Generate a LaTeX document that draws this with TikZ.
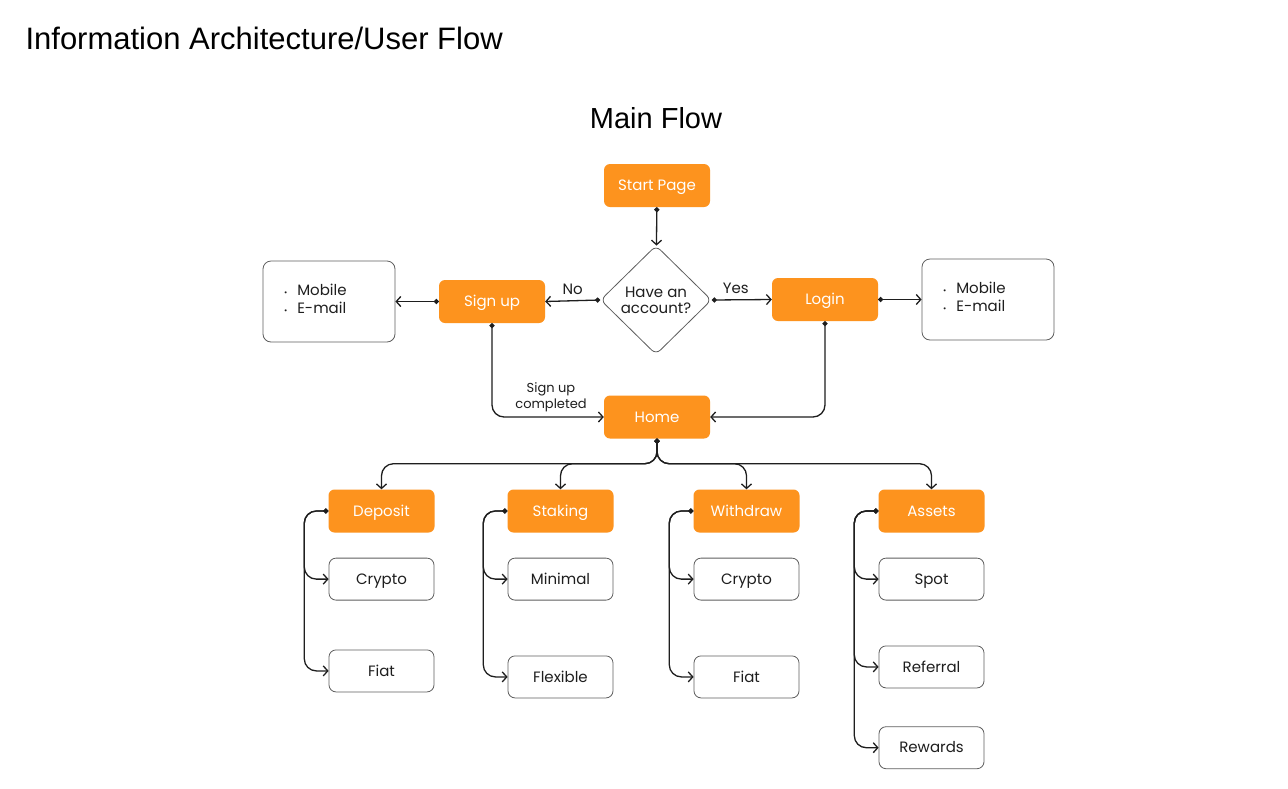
\documentclass[tikz,border=0pt]{standalone}
\usepackage{fontspec}
\setmainfont{Poppins}
\newfontfamily\headfont{Liberation Sans}
\usetikzlibrary{positioning,shapes.geometric,arrows.meta}
\definecolor{boxorange}{HTML}{FD931E}
\definecolor{lineblack}{HTML}{1E1E1E}
\definecolor{boxgray}{HTML}{5E5E5E}

\begin{document}
\begin{tikzpicture}[x=1pt, y=-1pt, node distance=26pt,
    main/.style = {fill=boxorange, rounded corners=6pt, text=white, minimum width=106pt, minimum height=43pt, text height=10.5pt, text depth=0pt, font=\fontsize{15}{17}\selectfont},
    sub/.style = {draw=boxgray, line width=0.8pt, rounded corners=7pt, minimum width=105pt, minimum height=42pt, text height=10.5pt, text depth=0pt, text=lineblack, font=\fontsize{15}{17}\selectfont},
    info/.style = {draw=boxgray, line width=0.8pt, rounded corners=8pt, minimum width=132pt, minimum height=81pt, text width=90pt, inner xsep=21pt, text depth=23pt, align=left, text=lineblack, font=\fontsize{15}{18}\selectfont},
    link/.style = {draw=lineblack, line width=1.3pt, {Circle[length=5pt]}-{Straight Barb[length=4.5pt,width=10pt]}},
    branch/.style = {link, rounded corners=12pt}]
    \useasboundingbox[fill=white] (0,0) rectangle (1288,788);

    % titles
    \node[anchor=west, font=\headfont\fontsize{31}{36}\selectfont] (title) at (22,38) {Information Architecture/User Flow};
    \node[font=\headfont\fontsize{29}{34}\selectfont] (flow) at (656,118) {Main Flow};

    % entry
    \node[main] (start) at (657,185.5) {Start Page};
    \node[draw=boxgray, line width=0.8pt, diamond, rounded corners=6pt, minimum width=111pt, minimum height=109pt, inner sep=0pt, align=center, text=lineblack, font=\fontsize{15}{16}\selectfont] (ask) at (656,300) {Have an\\account?};
    \node[main] (signup) at (492,301.5) {Sign up};
    \node[main] (login) at (825,299.5) {Login};
    \node[info] (signinfo) at (329,301.5) {{\fontsize{8}{8}\selectfont\textbullet}\hspace{10pt}Mobile\\{\fontsize{8}{8}\selectfont\textbullet}\hspace{10pt}E-mail};
    \node[info] (loginfo) at (988,299.5) {{\fontsize{8}{8}\selectfont\textbullet}\hspace{10pt}Mobile\\{\fontsize{8}{8}\selectfont\textbullet}\hspace{10pt}E-mail};
    \node[main] (home) at (657,417) {Home};
    \node[text=lineblack, align=center, font=\fontsize{13}{15.5}\selectfont] (done) at (551,397) {Sign up\\completed};

    % sections
    \node[main] (dep) at (381.5,511) {Deposit};
    \node[main] (stak) at (560.5,511) {Staking};
    \node[main] (with) at (746.5,511) {Withdraw};
    \node[main] (asset) at (931.5,511) {Assets};

    \node[sub] (dcrypto) [below=25pt of dep] {Crypto};
    \node[sub] (dfiat) [below=49pt of dcrypto] {Fiat};
    \node[sub] (smin) [below=25pt of stak] {Minimal};
    \node[sub] (sflex) [below=55pt of smin] {Flexible};
    \node[sub] (wcrypto) [below=25pt of with] {Crypto};
    \node[sub] (wfiat) [below=55pt of wcrypto] {Fiat};
    \node[sub] (aspot) [below=25pt of asset] {Spot};
    \node[sub] (aref) [below=45pt of aspot] {Referral};
    \node[sub] (arew) [below=38pt of aref] {Rewards};

    % connectors
    \draw[link] (start) -- (ask);
    \draw[link] (ask.west) -- node[above=2pt, text=lineblack, font=\fontsize{15}{17}\selectfont] {No} (signup.east);
    \draw[link] (ask.east) -- node[above=2pt, pos=0.4, text=lineblack, font=\fontsize{15}{17}\selectfont] {Yes} (login.west);
    \draw[link] (signup.west) -- (signinfo.east);
    \draw[link] (login.east) -- (loginfo.west);
    \draw[branch] (signup.south) |- (home.west);
    \draw[branch] (login.south) |- (home.east);

    \foreach \s in {dep,stak,with,asset}
        \draw[branch] (home.south) -- ++(0,25) -| (\s.north);

    \foreach \p/\c in {dep/dcrypto, dep/dfiat, stak/smin, stak/sflex, with/wcrypto, with/wfiat, asset/aspot, asset/aref, asset/arew}
        \draw[branch] (\p.west) -- ++(-24,0) |- (\c.west);
\end{tikzpicture}
\end{document}
